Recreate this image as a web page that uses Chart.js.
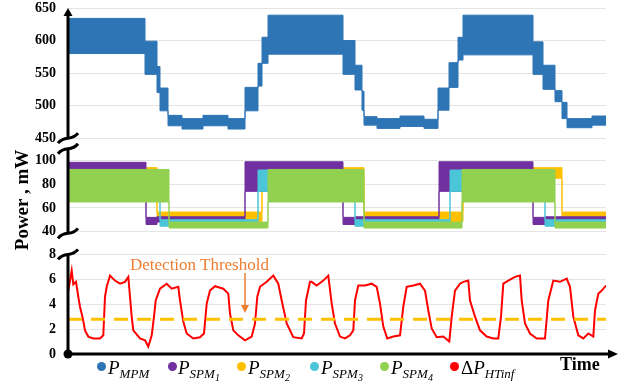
<!DOCTYPE html>
<html>
<head>
<meta charset="utf-8">
<script src="https://cdn.jsdelivr.net/npm/chart.js@4.4.0/dist/chart.umd.min.js"></script>
<style>
  body { margin: 0; background: #fff; }
  #wrap { position: relative; width: 628px; height: 383px; overflow: hidden; }
  #grafico { position: absolute; left: 0; top: 0; }
  .txt { position: absolute; font-family: "Liberation Serif", "Times New Roman", serif; white-space: nowrap; }
  #ytitulo { left: -43px; top: 189px; width: 130px; height: 22px; line-height: 22px; text-align: center;
             font-size: 19px; font-weight: bold; transform: rotate(-90deg); }
  #tempo { left: 560px; top: 355px; font-size: 18px; line-height: 18px; font-weight: bold; }
  #limiar { left: 130px; top: 256px; font-size: 17px; line-height: 17px; color: #ED7D31; }
  .dot { position: absolute; top: 362px; width: 9px; height: 9px; border-radius: 50%; }
  .leg { position: absolute; top: 358px; font-family: "Liberation Serif", serif; font-style: italic;
         font-size: 19px; line-height: 19px; white-space: nowrap; }
  .leg sub { font-size: 13px; vertical-align: -4px; line-height: 0; }
  .leg sub sub { font-size: 10px; vertical-align: -3px; }
  .leg .up { font-style: normal; }
</style>
</head>
<body>
<div id="wrap">
  <canvas id="grafico" width="628" height="383"></canvas>
  <div class="txt" id="ytitulo">Power , mW</div>
  <div class="txt" id="limiar">Detection Threshold</div>
  <div class="txt" id="tempo">Time</div>

  <span class="dot" style="left:97px;background:#2E75B6"></span>
  <div class="leg" style="left:108px">P<sub>MPM</sub></div>
  <span class="dot" style="left:168px;background:#7030A0"></span>
  <div class="leg" style="left:178px">P<sub>SPM<sub>1</sub></sub></div>
  <span class="dot" style="left:237px;background:#FFC000"></span>
  <div class="leg" style="left:248px">P<sub>SPM<sub>2</sub></sub></div>
  <span class="dot" style="left:310px;background:#4BC6D9"></span>
  <div class="leg" style="left:321px">P<sub>SPM<sub>3</sub></sub></div>
  <span class="dot" style="left:380px;background:#92D050"></span>
  <div class="leg" style="left:391px">P<sub>SPM<sub>4</sub></sub></div>
  <span class="dot" style="left:450px;background:#FF0000"></span>
  <div class="leg" style="left:461px"><span class="up">Δ</span>P<sub>HTinf</sub></div>
</div>

<script>
// tempo (unidades arbitrarias) 0..538

// P_MPM - faixa de ruido (min / max) por trecho
var mpmT  = [0, 77, 89, 92, 100, 114, 135, 160, 177, 190, 194, 200, 275, 287, 294, 296, 309, 332, 356, 370, 381, 390, 395, 465, 475, 487, 494, 499, 524, 538];
var mpmLo = [580, 548, 520, 492, 469, 464, 469, 464, 492, 530, 565, 579, 548, 524, 493, 470, 465, 468, 465, 493, 528, 570, 578, 548, 525, 506, 480, 466, 470];
var mpmHi = [634, 599, 560, 527, 485, 480, 485, 480, 528, 565, 605, 639, 600, 562, 522, 483, 480, 484, 479, 527, 566, 605, 639, 598, 562, 523, 505, 480, 484];

// P_SPM1
var spm1T  = [0, 78, 89, 177, 275, 287, 371, 465, 477, 538];
var spm1Lo = [74, 46, 48, 74, 46, 48, 74, 46, 48];
var spm1Hi = [98.5, 52, 52.5, 99, 52, 52.5, 99, 52, 52.5];

// P_SPM2
var spm2T  = [0, 89, 194, 296, 395, 494, 538];
var spm2Lo = [85, 48.5, 85, 48.5, 85, 48.5];
var spm2Hi = [94, 56.5, 94, 56.5, 94, 56.5];

// P_SPM3
var spm3T  = [0, 92, 190, 287, 382, 477, 538];
var spm3Lo = [74, 44.5, 74, 44.5, 74, 44.5];
var spm3Hi = [92, 50, 92, 50, 92, 50];

// P_SPM4
var spm4T  = [0, 101, 200, 296, 394, 487, 538];
var spm4Lo = [65, 43, 65, 43, 65, 43];
var spm4Hi = [92.5, 48, 92.5, 48, 92.5, 48];

// Delta P_HTinf
var dpT = [0.3, 3.7, 5.3, 8, 10.3, 12, 14.7, 17, 20.3, 25.3, 32, 35.3, 37, 38.7, 42, 47, 52, 57, 60.3, 62, 63.7, 65.3,
           72, 77, 80.3, 83.7, 86, 87.7, 92, 98.7, 103.7, 110.3, 112, 115.3, 118.7, 125.3, 132, 136, 138.7, 142, 147,
           155.3, 160.3, 162, 165.3, 170.3, 177, 183.7, 187, 189.3, 192, 198.7, 205.3, 210.3, 213.7, 218.7, 225.3,
           233.7, 236, 238, 242, 243.7, 248.7, 255.3, 260.3, 263.7, 267, 272, 277, 282, 285.3, 287, 290.3, 297,
           303.7, 308.7, 312, 315.3, 319.3, 325.3, 332, 335.3, 338.7, 345.3, 352, 357, 360.3, 363.7, 368.7, 375.3,
           381.3, 383.7, 387, 392, 395.3, 400.3, 402, 407, 412, 418.7, 425.3, 430.3, 433, 435.3, 440.3, 447, 452,
           453.7, 457, 462, 468.7, 477, 480.3, 485.3, 492, 498.7, 502, 505.3, 510.3, 515.3, 520.3, 525.3, 527,
           530.3, 533.7, 538];
var dpV = [5.1, 6.7, 5.6, 5.8, 4.6, 3.8, 2.9, 1.9, 1.4, 1.25, 1.25, 1.5, 4.6, 5.4, 6.3, 5.9, 5.65, 5.8, 6.2, 4.6, 3.0, 1.9,
           1.25, 1.1, 0.6, 1.5, 3.0, 4.3, 5.25, 5.65, 5.25, 5.4, 4.3, 2.6, 1.65, 1.25, 1.35, 1.65, 4.05, 5.1, 5.45,
           5.25, 4.85, 3.25, 1.9, 1.5, 1.1, 1.4, 2.45, 4.6, 5.4, 5.8, 6.3, 5.65, 4.3, 2.45, 1.35,
           1.25, 1.65, 4.3, 5.8, 5.8, 5.5, 5.9, 6.3, 4.05, 2.45, 1.4, 1.25, 1.5, 1.9, 4.3, 5.5, 5.5,
           5.65, 5.4, 4.05, 2.2, 1.25, 1.4, 1.5, 3.8, 5.4, 5.5, 5.65, 5.1, 3.5, 2.05, 1.35, 1.4,
           1.0, 3.0, 5.1, 5.65, 5.8, 5.9, 4.3, 3.0, 1.9, 1.4, 1.25, 1.25, 3.0, 5.65, 5.9, 6.2, 6.3,
           4.3, 2.45, 1.65, 1.25, 1.25, 4.3, 5.9, 5.8, 6.05, 5.4, 3.0, 1.5, 1.25, 1.65, 1.4, 3.5,
           4.85, 5.1, 5.5];

// limiar de deteccao
var limT = [0, 538];
var limV = [2.8, 2.8];

// seta "Detection Threshold"
var setaT = 177;
var setaDe = 6.5;
var setaAte = 3.3;

function pontosDegrau(ts, vals) {
    var pts = [];
    for (var i = 0; i < vals.length; i++) {
        pts.push({ x: ts[i], y: vals[i] });
    }
    pts.push({ x: ts[ts.length - 1], y: vals[vals.length - 1] });
    return pts;
}

function pontos(ts, vals) {
    return ts.map(function (t, i) { return { x: t, y: vals[i] }; });
}

var datasets = [];
// cada faixa = linha de cima preenchida ate a linha de baixo
function addFaixa(ts, lo, hi, cor, eixo, ordem) {
    datasets.push({
        data: pontosDegrau(ts, hi), yAxisID: eixo, stepped: true, fill: '+1',
        backgroundColor: cor, borderColor: cor, borderWidth: 1, pointRadius: 0, order: ordem
    });
    datasets.push({
        data: pontosDegrau(ts, lo), yAxisID: eixo, stepped: true, fill: false,
        borderColor: cor, borderWidth: 1, pointRadius: 0, order: ordem
    });
}

addFaixa(mpmT, mpmLo, mpmHi, '#2E75B6', 'p1', 6);
addFaixa(spm2T, spm2Lo, spm2Hi, '#FFC000', 'p2', 5);
addFaixa(spm1T, spm1Lo, spm1Hi, '#7030A0', 'p2', 4);
addFaixa(spm3T, spm3Lo, spm3Hi, '#4BC6D9', 'p2', 3);
addFaixa(spm4T, spm4Lo, spm4Hi, '#92D050', 'p2', 2);

datasets.push({
    data: pontos(dpT, dpV), yAxisID: 'p3', borderColor: '#FF0000', borderWidth: 2,
    pointRadius: 0, fill: false, order: 1
});
datasets.push({
    data: pontos(limT, limV), yAxisID: 'p3', borderColor: '#FFC000', borderWidth: 3,
    borderDash: [14, 9], pointRadius: 0, fill: false, order: 0
});

function linha(ctx, x1, y1, x2, y2) {
    ctx.beginPath();
    ctx.moveTo(x1, y1);
    ctx.lineTo(x2, y2);
    ctx.stroke();
}

function triangulo(ctx, ax, ay, bx, by, cx, cy) {
    ctx.beginPath();
    ctx.moveTo(ax, ay);
    ctx.lineTo(bx, by);
    ctx.lineTo(cx, cy);
    ctx.closePath();
    ctx.fill();
}

// marca de quebra do eixo (tipo ~)
function quebra(ctx, x, y) {
    ctx.beginPath();
    ctx.moveTo(x - 10, y + 5);
    ctx.bezierCurveTo(x - 3, y - 4, x + 3, y + 4, x + 10, y - 5);
    ctx.stroke();
}

var eixosPlugin = {
    id: 'eixos',
    afterDatasetsDraw: function (chart) {
        var ctx = chart.ctx;
        var xs = chart.scales.x, p1 = chart.scales.p1, p2 = chart.scales.p2, p3 = chart.scales.p3;
        var x0 = chart.chartArea.left;
        var y0 = p3.getPixelForValue(0);
        ctx.save();
        ctx.strokeStyle = '#000';
        ctx.fillStyle = '#000';
        ctx.lineWidth = 3;

        // painel 1
        var b1 = p1.getPixelForValue(450);
        linha(ctx, x0, p1.top + 6, x0, b1);
        triangulo(ctx, x0, p1.top, x0 - 4.5, p1.top + 8, x0 + 4.5, p1.top + 8);
        quebra(ctx, x0, b1);

        // painel 2
        var t2 = p2.getPixelForValue(110), b2 = p2.getPixelForValue(38.5);
        linha(ctx, x0, t2, x0, b2);
        quebra(ctx, x0, t2);
        quebra(ctx, x0, b2);

        // painel 3 + eixo do tempo
        var t3 = p3.getPixelForValue(8);
        linha(ctx, x0, t3, x0, y0);
        quebra(ctx, x0, t3);
        var xFim = chart.chartArea.right + 12;
        linha(ctx, x0, y0, xFim - 6, y0);
        triangulo(ctx, xFim, y0, xFim - 10, y0 - 4.5, xFim - 10, y0 + 4.5);
        ctx.beginPath();
        ctx.arc(x0, y0, 4.5, 0, 2 * Math.PI);
        ctx.fill();

        // seta laranja
        ctx.strokeStyle = '#ED7D31';
        ctx.fillStyle = '#ED7D31';
        ctx.lineWidth = 1.5;
        var xa = xs.getPixelForValue(setaT);
        var ya = p3.getPixelForValue(setaAte);
        linha(ctx, xa, p3.getPixelForValue(setaDe), xa, ya - 6);
        triangulo(ctx, xa, ya, xa - 4, ya - 8, xa + 4, ya - 8);
        ctx.restore();
    }
};

function eixoY(min, max, passo, valores, peso) {
    return {
        type: 'linear', position: 'left', stack: 'paineis', stackWeight: peso,
        min: min, max: max,
        ticks: {
            stepSize: passo, padding: 12, color: '#000', autoSkip: false,
            font: { family: 'Liberation Serif', weight: 'bold', size: 14 }
        },
        afterBuildTicks: function (scale) {
            scale.ticks = valores.map(function (v) { return { value: v }; });
        },
        afterFit: function (scale) {
            scale.width = 68;
            scale.paddingTop = 0;
            scale.paddingBottom = 0;
        },
        grid: { color: '#E4E4E4', drawTicks: false },
        border: { display: false }
    };
}

var ctx = document.getElementById('grafico').getContext('2d');
var grafico = new Chart(ctx, {
    type: 'line',
    data: { datasets: datasets },
    plugins: [eixosPlugin],
    options: {
        responsive: false,
        animation: false,
        layout: { padding: { left: 0, right: 22, top: 8, bottom: 29 } },
        plugins: { legend: { display: false }, tooltip: { enabled: false } },
        elements: { line: { tension: 0 } },
        scales: {
            x: { type: 'linear', min: 0, max: 538, display: false },
            p3: eixoY(0, 8.84, 2, [0, 2, 4, 6, 8], 110),
            p2: eixoY(29.5, 114, 20, [40, 60, 80, 100], 100),
            p1: eixoY(441, 650, 50, [450, 500, 550, 600, 650], 136)
        }
    }
});
</script>
</body>
</html>
